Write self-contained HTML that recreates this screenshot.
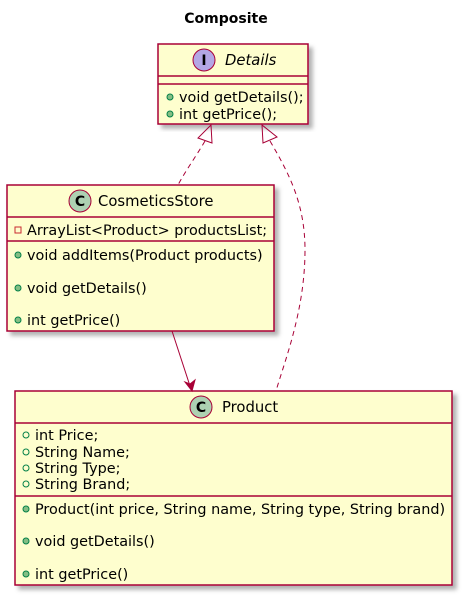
<!DOCTYPE html>
<html><head><meta charset="utf-8"><style>
html,body{margin:0;padding:0;background:#fff;}
svg{display:block;}
text{font-family:"DejaVu Sans","Liberation Sans",sans-serif;font-size:14.4px;fill:#000;}
.n{font-size:14.8px;}
</style></head><body>
<svg width="465" height="598" viewBox="0 0 465 598" xmlns="http://www.w3.org/2000/svg">
<defs>
<filter id="sh" x="-5%" y="-5%" width="115%" height="115%"><feDropShadow dx="4" dy="4" stdDeviation="2" flood-color="#000" flood-opacity="0.3"/></filter>
</defs>
<text x="226" y="23" text-anchor="middle" style="font-weight:bold;font-size:14px">Composite</text>

<!-- Details -->
<rect x="158" y="44" width="150" height="80" fill="#FEFECE" stroke="#A80036" stroke-width="1.5" filter="url(#sh)"/>
<circle cx="204" cy="60" r="11" fill="#B4A7E5" stroke="#A80036"/>
<text x="204" y="65" text-anchor="middle" style="font-weight:bold;font-size:14px">I</text>
<text x="225" y="65" class="n" style="font-style:italic">Details</text>
<line x1="158" y1="76" x2="308" y2="76" stroke="#A80036" stroke-width="1.5"/>
<line x1="158" y1="84" x2="308" y2="84" stroke="#A80036" stroke-width="1.5"/>
<circle cx="170" cy="97" r="3" fill="#84BE84" stroke="#038048"/>
<text x="179" y="102">void getDetails();</text>
<circle cx="170" cy="114" r="3" fill="#84BE84" stroke="#038048"/>
<text x="179" y="119">int getPrice();</text>

<!-- CosmeticsStore -->
<rect x="7" y="185" width="267" height="146" fill="#FEFECE" stroke="#A80036" stroke-width="1.5" filter="url(#sh)"/>
<circle cx="80" cy="201" r="11" fill="#ADD1B2" stroke="#A80036"/>
<text x="80" y="206" text-anchor="middle" style="font-weight:bold;font-size:14px">C</text>
<text x="98" y="206" class="n">CosmeticsStore</text>
<line x1="7" y1="217" x2="274" y2="217" stroke="#A80036" stroke-width="1.5"/>
<rect x="15" y="227" width="6" height="6" fill="none" stroke="#C82930"/>
<text x="27" y="235">ArrayList&lt;Product&gt; productsList;</text>
<line x1="7" y1="241" x2="274" y2="241" stroke="#A80036" stroke-width="1.5"/>
<circle cx="18" cy="255" r="3" fill="#84BE84" stroke="#038048"/>
<text x="27" y="260">void addItems(Product products)</text>
<circle cx="18" cy="288" r="3" fill="#84BE84" stroke="#038048"/>
<text x="27" y="293">void getDetails()</text>
<circle cx="18" cy="320" r="3" fill="#84BE84" stroke="#038048"/>
<text x="27" y="325">int getPrice()</text>

<!-- Product -->
<rect x="15" y="391" width="437" height="194" fill="#FEFECE" stroke="#A80036" stroke-width="1.5" filter="url(#sh)"/>
<circle cx="201" cy="407" r="11" fill="#ADD1B2" stroke="#A80036"/>
<text x="201" y="412" text-anchor="middle" style="font-weight:bold;font-size:14px">C</text>
<text x="222" y="412" class="n">Product</text>
<line x1="15" y1="423" x2="452" y2="423" stroke="#A80036" stroke-width="1.5"/>
<circle cx="26" cy="435" r="3" fill="none" stroke="#038048"/>
<text x="35" y="440">int Price;</text>
<circle cx="26" cy="452" r="3" fill="none" stroke="#038048"/>
<text x="35" y="457">String Name;</text>
<circle cx="26" cy="468" r="3" fill="none" stroke="#038048"/>
<text x="35" y="473">String Type;</text>
<circle cx="26" cy="484" r="3" fill="none" stroke="#038048"/>
<text x="35" y="489">String Brand;</text>
<line x1="15" y1="496" x2="452" y2="496" stroke="#A80036" stroke-width="1.5"/>
<circle cx="26" cy="509" r="3" fill="#84BE84" stroke="#038048"/>
<text x="35" y="514">Product(int price, String name, String type, String brand)</text>
<circle cx="26" cy="541" r="3" fill="#84BE84" stroke="#038048"/>
<text x="35" y="546">void getDetails()</text>
<circle cx="26" cy="574" r="3" fill="#84BE84" stroke="#038048"/>
<text x="35" y="579">int getPrice()</text>

<!-- connectors -->
<path d="M205,141 C195,158 186,170 178,185" fill="none" stroke="#A80036" stroke-dasharray="5,4"/>
<polygon points="211,125 198,138 212,143" fill="none" stroke="#A80036"/>
<path d="M270,141 C290,175 305,205 305,250 C305,310 285,360 276,391" fill="none" stroke="#A80036" stroke-dasharray="5,4"/>
<polygon points="262,125 263,143 277,137" fill="none" stroke="#A80036"/>
<line x1="172" y1="331" x2="190" y2="386" stroke="#A80036"/>
<polygon points="192,391 185,382 190,384 195,380" fill="#A80036" stroke="#A80036"/>
</svg>
</body></html>
